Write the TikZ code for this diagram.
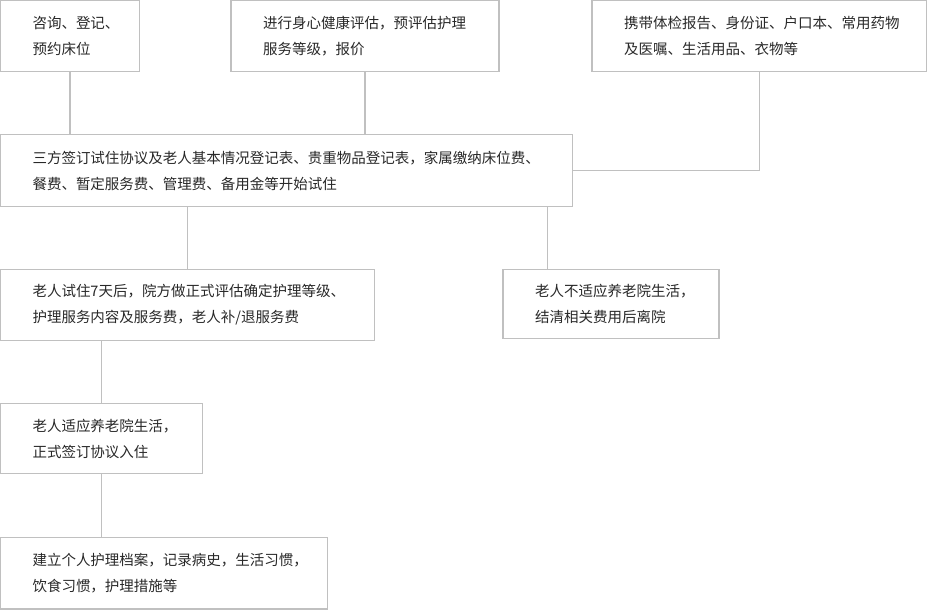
\documentclass[tikz,border=0pt]{standalone}
\usepackage{fontspec}
\newfontfamily\cjk{Noto Sans CJK SC}
\usetikzlibrary{positioning}
\definecolor{linegray}{RGB}{192,192,192}
\definecolor{textgray}{RGB}{40,40,40}

\begin{document}
\begin{tikzpicture}[
    x=1pt, y=-1pt,
    box/.style={rectangle, draw=linegray, line width=1.1pt, text=textgray, align=left, text width=#1,
        inner xsep=32pt, inner ysep=0pt, outer sep=0pt, minimum height=71pt, anchor=north west,
        font=\cjk\fontsize{14.5}{26}\selectfont},
    link/.style={draw=linegray, line width=1.1pt}
]
\useasboundingbox (0,0) rectangle (927,610);

% Top row
\node[box=75pt] (consult) at (0.5,0.5) {咨询、登记、\\预约床位};
\node[box=204pt] (assess) at (231,0.5) {进行身心健康评估，预评估护理\\服务等级，报价};
\node[box=271pt] (carry) at (592,0.5) {携带体检报告、身份证、户口本、常用药物\\及医嘱、生活用品、衣物等};

% Trial and after
\node[box=508pt, minimum height=72pt, below=63pt of consult.south west, anchor=north west] (trial) {三方签订试住协议及老人基本情况登记表、贵重物品登记表，家属缴纳床位费、\\餐费、暂定服务费、管理费、备用金等开始试住};
\node[box=310pt, below=63pt of trial.south west, anchor=north west] (formal) {老人试住7天后，院方做正式评估确定护理等级、\\护理服务内容及服务费，老人补/退服务费};
\node[box=152pt, minimum height=69pt] (leave) at (503,269.5) {老人不适应养老院生活，\\结清相关费用后离院};
\node[box=138pt, minimum height=70pt, below=63pt of formal.south west, anchor=north west] (settle) {老人适应养老院生活，\\正式签订协议入住};
\node[box=263pt, minimum height=71.5pt, below=64pt of settle.south west, anchor=north west] (record) {建立个人护理档案，记录病史，生活习惯，\\饮食习惯，护理措施等};

% Lines
\draw[link] (consult.south) -- (consult.south |- trial.north);
\draw[link] (assess.south) -- (assess.south |- trial.north);
\draw[link] (carry.south) |- (trial.east);
\draw[link] (formal.north) -- (formal.north |- trial.south);
\draw[link] ([xshift=-25pt]trial.south east) -- ([xshift=-25pt]trial.south east |- leave.north);
\draw[link] (settle.north) -- (settle.north |- formal.south);
\draw[link] (settle.south) -- (settle.south |- record.north);

\end{tikzpicture}
\end{document}
